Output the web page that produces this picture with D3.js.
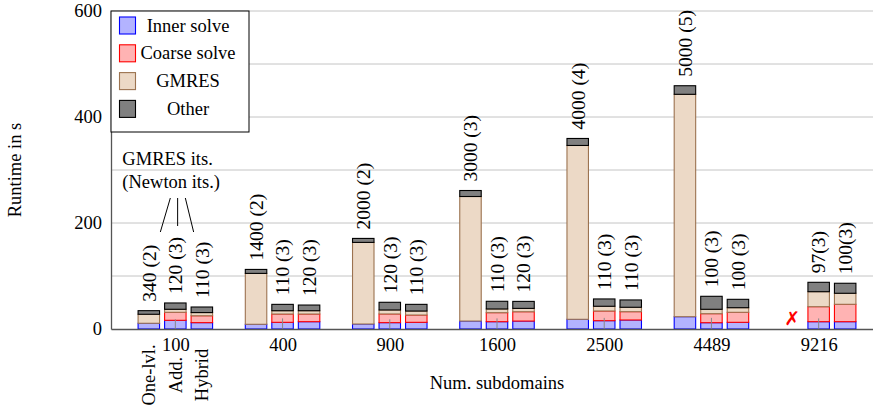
<!DOCTYPE html>
<html>
<head>
<meta charset="utf-8">
<script src="https://cdn.jsdelivr.net/npm/d3@7"></script>
<style>
	body { margin: 0; background: #fff; }
	svg text { font-family: "Liberation Serif", "Times New Roman", serif; }
</style>
</head>
<body>
<div id="chart"></div>
<script>
var subdomains = ["100", "400", "900", "1600", "2500", "4489", "9216"];
var variants = ["One-lvl.", "Add.", "Hybrid"];
var components = ["Inner solve", "Coarse solve", "GMRES", "Other"];

// runtime in s, one row per variant (One-lvl., Add., Hybrid)
var innerSolve = [
	[10.8, 8.9, 9.4, 15, 18.3, 23.2, 0],
	[16.4, 12.6, 12, 13.8, 15.7, 11.9, 13.8],
	[12, 13.8, 12.6, 15, 17, 12.6, 13.8],
];
var coarseSolve = [
	[0, 0, 0, 0, 0, 0, 0],
	[15.1, 15.7, 16.4, 17, 18.3, 17, 28.3],
	[13, 14.5, 13.8, 17.6, 15.7, 18.9, 32.8],
];
var gmres = [
	[17, 96, 154, 235, 328, 419.6, 0],
	[5.7, 6.2, 7.5, 7, 8.9, 8.3, 28.3],
	[6, 6.2, 7.5, 6.3, 8.3, 8.7, 20.8],
];
var other = [
	[6.8, 7.5, 7.5, 11.3, 13.2, 16.2, 0],
	[11.9, 12, 14.5, 14.5, 13.8, 24.5, 17.7],
	[10.5, 10.7, 12.6, 13.2, 13.8, 15.8, 18.9],
];
// GMRES its. (Newton its.)
var iterLabels = [
	["340 (2)", "1400 (2)", "2000 (2)", "3000 (3)", "4000 (4)", "5000 (5)", ""],
	["120 (3)", "110 (3)", "120 (3)", "110 (3)", "110 (3)", "100 (3)", "97(3)"],
	["110 (3)", "120 (3)", "110 (3)", "120 (3)", "110 (3)", "100 (3)", "100(3)"],
];
// thin gray marker inside the Add. bars
var addMarker = [18.3, 20, 18.3, 20, 21, 21, 20];
var failedRuns = [{ group: "9216", variant: "One-lvl." }];
var yTicks = [0, 200, 400, 600];
var yGrid = [100, 200, 300, 400, 500, 600];

var width = 873;
var height = 408;
var margins = { top: 11, left: 111, bottom: 79 };
var plotW = 772;
var plotH = height - margins.top - margins.bottom;

var fills = ["#b3b3ff", "#ffb3b3", "#ecd9c6", "#808080"];
var strokes = ["#0000ff", "#ff0000", "#9c7350", "#000000"];

var rows = [];
subdomains.forEach(function (g, gi) {
	variants.forEach(function (v, vi) {
		rows.push({
			group: g,
			variant: v,
			label: iterLabels[vi][gi],
			"Inner solve": innerSolve[vi][gi],
			"Coarse solve": coarseSolve[vi][gi],
			GMRES: gmres[vi][gi],
			Other: other[vi][gi],
		});
	});
});

var series = d3.stack().keys(components)(rows);

var x = d3.scalePoint().domain(subdomains).range([0, plotW]).padding(0.6);
var xv = d3.scaleBand().domain(variants).range([-37.25, 37.25]).paddingInner(0.19);
var y = d3.scaleLinear().domain([0, 600]).range([plotH, 0]);

function barX(d) {
	return x(d.group) + xv(d.variant);
}

var svg = d3
	.select("#chart")
	.append("svg")
	.attr("width", width)
	.attr("height", height);

var g = svg.append("g").attr("transform", "translate(" + margins.left + "," + margins.top + ")");

g.selectAll(".grid")
	.data(yGrid)
	.enter()
	.append("line")
	.attr("x1", 0)
	.attr("x2", plotW)
	.attr("y1", function (d) { return y(d); })
	.attr("y2", function (d) { return y(d); })
	.attr("stroke", "#c4c4c4")
	.attr("stroke-width", 1);

var layers = g
	.selectAll(".layer")
	.data(series)
	.enter()
	.append("g")
	.attr("fill", function (d, i) { return fills[i]; })
	.attr("stroke", function (d, i) { return strokes[i]; })
	.attr("stroke-width", 1.1);

layers
	.selectAll("rect")
	.data(function (d) { return d; })
	.enter()
	.append("rect")
	.attr("x", function (d) { return barX(d.data); })
	.attr("width", xv.bandwidth())
	.attr("y", function (d) { return y(d[1]); })
	.attr("height", function (d) { return y(d[0]) - y(d[1]); });

g.selectAll(".marker")
	.data(addMarker)
	.enter()
	.append("line")
	.attr("x1", function (d, i) { return x(subdomains[i]) + xv("Add.") + xv.bandwidth() / 2; })
	.attr("x2", function (d, i) { return x(subdomains[i]) + xv("Add.") + xv.bandwidth() / 2; })
	.attr("y1", y(0))
	.attr("y2", function (d) { return y(d); })
	.attr("stroke", "#888")
	.attr("stroke-width", 1);

// iteration labels above bars
var topLayer = series[series.length - 1];
g.selectAll(".its")
	.data(topLayer)
	.enter()
	.append("text")
	.attr("transform", function (d) {
		return "translate(" + (barX(d.data) + xv.bandwidth() / 2) + "," + (y(d[1]) - 9) + ") rotate(-90)";
	})
	.attr("dy", "0.35em")
	.attr("font-size", "19.5px")
	.text(function (d) { return d.data.label; });

g.selectAll(".failed")
	.data(failedRuns)
	.enter()
	.append("text")
	.attr("x", function (d) { return x(d.group) + xv(d.variant) + xv.bandwidth() / 2; })
	.attr("y", y(0) - 4)
	.attr("text-anchor", "middle")
	.attr("fill", "#ff0000")
	.attr("font-weight", "bold")
	.attr("font-size", "19px")
	.style("font-family", "DejaVu Sans")
	.text("\u2717");

// axes
var yAxis = g.append("g").call(d3.axisLeft(y).tickValues(yTicks).tickSize(0).tickPadding(9));
var xAxis = g
	.append("g")
	.attr("transform", "translate(0," + plotH + ")")
	.call(d3.axisBottom(x).tickSize(0).tickPadding(9));

[xAxis, yAxis].forEach(function (a) {
	a.select(".domain").attr("stroke", "#555").attr("stroke-width", 1.3);
	a.selectAll("text")
		.attr("font-size", "18.5px")
		.attr("fill", "#000")
		.style("font-family", "Liberation Serif");
});

// variant names under the first group
g.selectAll(".variant")
	.data(variants)
	.enter()
	.append("text")
	.attr("transform", function (d) {
		return "translate(" + (x(subdomains[0]) + xv(d) + xv.bandwidth() / 2) + "," + 364 + ") rotate(-90)";
	})
	.attr("dy", "0.35em")
	.attr("text-anchor", "middle")
	.attr("font-size", "18.5px")
	.text(function (d) { return d; });

// annotation for the labels
var x0 = x(subdomains[0]);
g.append("text")
	.attr("x", x0 - 53)
	.attr("y", 154)
	.attr("font-size", "18.5px")
	.text("GMRES its.");
g.append("text")
	.attr("x", x0 - 53)
	.attr("y", 177)
	.attr("font-size", "18.5px")
	.text("(Newton its.)");
var pointers = [
	[-5, 187, -15, 221],
	[2.3, 187, 2.3, 215],
	[10, 187, 18.3, 221],
];
g.selectAll(".pointer")
	.data(pointers)
	.enter()
	.append("line")
	.attr("x1", function (d) { return x0 + d[0]; })
	.attr("y1", function (d) { return d[1]; })
	.attr("x2", function (d) { return x0 + d[2]; })
	.attr("y2", function (d) { return d[3]; })
	.attr("stroke", "#000")
	.attr("stroke-width", 1);

// axis titles
g.append("text")
	.attr("x", plotW / 2)
	.attr("y", plotH + 60)
	.attr("text-anchor", "middle")
	.attr("font-size", "18.5px")
	.text("Num. subdomains");
svg.append("text")
	.attr("transform", "translate(21," + (margins.top + plotH / 2) + ") rotate(-90)")
	.attr("text-anchor", "middle")
	.attr("font-size", "18.5px")
	.text("Runtime in s");

// legend
var legend = g.append("g");
legend
	.append("rect")
	.attr("x", 0)
	.attr("y", 0)
	.attr("width", 138)
	.attr("height", 121)
	.attr("fill", "#fff")
	.attr("stroke", "#000")
	.attr("stroke-width", 1);
var items = legend
	.selectAll(".item")
	.data(components)
	.enter()
	.append("g")
	.attr("transform", function (d, i) { return "translate(0," + (14.5 + i * 27.8) + ")"; });
items
	.append("rect")
	.attr("x", 8.5)
	.attr("y", -8.5)
	.attr("width", 16)
	.attr("height", 17)
	.attr("fill", function (d, i) { return fills[i]; })
	.attr("stroke", function (d, i) { return strokes[i]; })
	.attr("stroke-width", 1.1);
items
	.append("text")
	.attr("x", 77)
	.attr("dy", "0.33em")
	.attr("text-anchor", "middle")
	.attr("font-size", "18.5px")
	.text(function (d) { return d; });
</script>
</body>
</html>
